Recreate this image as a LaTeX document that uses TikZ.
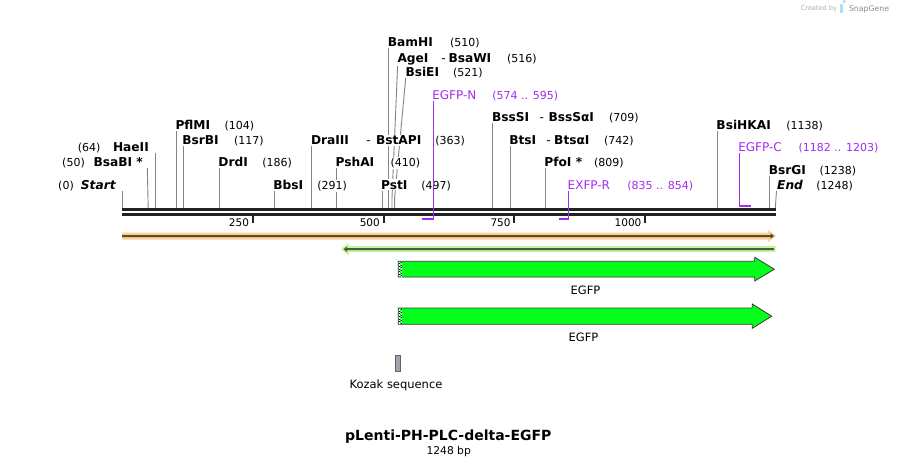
\documentclass[tikz,border=0pt]{standalone}
\usepackage{fontspec}
\setmainfont{DejaVu Sans}
\pgfdeclarelayer{bg}
\pgfdeclarelayer{fg}
\pgfsetlayers{bg,main,fg}
\definecolor{prim}{HTML}{A22CF0}
\definecolor{sitegray}{HTML}{858585}
\definecolor{dnablack}{HTML}{222222}
\definecolor{orangeband}{HTML}{FCD38C}
\definecolor{orangeline}{HTML}{574A3A}
\definecolor{greenband}{HTML}{C4F59C}
\definecolor{greenline}{HTML}{4B5B40}
\definecolor{egfpgreen}{HTML}{05FF1C}
\definecolor{featedge}{HTML}{3A3A3A}
\definecolor{kozakgray}{HTML}{A0A4AC}
\newcommand\enzL[6]{%
  \coordinate (#1b) at ({122+#3*0.5232},208);
  \coordinate (#1t) at ({122+#3*0.5232},{#4+1.5});
  \node[lab] (#1) at ({122+#3*0.5232-2.6},#4) {#2};
  \node[num] (#1n) at ({#5-2},#4) {#6};
  \begin{pgfonlayer}{bg}\draw[siteline] (#1t) -- (#1b);\end{pgfonlayer}
}
\begin{document}
\begin{tikzpicture}[x=1pt,y=-1pt,
  lab/.style={font=\fontsize{12.2}{14}\selectfont\bfseries, fill=white, inner xsep=1.5pt, inner ysep=1pt, anchor=base west},
  labR/.style={lab, anchor=base east},
  num/.style={font=\fontsize{11}{13}\selectfont, fill=white, inner xsep=1.5pt, inner ysep=1pt, anchor=base west},
  numR/.style={num, anchor=base east},
  dashlab/.style={font=\fontsize{12.2}{14}\selectfont, fill=white, inner xsep=1.5pt, inner ysep=1pt, anchor=base west},
  plab/.style={font=\fontsize{12}{14}\selectfont, text=prim, fill=white, inner xsep=1.5pt, inner ysep=1pt, anchor=base west},
  pnum/.style={font=\fontsize{11}{13}\selectfont, text=prim, fill=white, inner xsep=1.5pt, inner ysep=1pt, anchor=base west},
  siteline/.style={draw=sitegray, line width=0.9pt},
  primv/.style={draw=prim, line width=1.1pt},
  primh/.style={draw=prim, line width=2pt},
  dnabar/.style={draw=dnablack, line width=2.7pt},
  tickmark/.style={draw=dnablack, line width=2pt},
  ticklab/.style={font=\fontsize{10.5}{12}\selectfont, inner sep=0pt, anchor=base east},
  featlab/.style={font=\fontsize{11.5}{13}\selectfont, inner sep=0pt, anchor=base},
  arrowfeat/.style={fill=egfpgreen, draw=featedge, line width=0.8pt}
]
\begin{pgfonlayer}{bg}
\fill[white] (0,0) rectangle (898,466);
\end{pgfonlayer}
\path[use as bounding box] (0,0) rectangle (898,466);

% watermark
\node[font=\fontsize{6.6}{8}\selectfont, text=black!30, inner sep=0pt, anchor=base west] (wm1) at (800.5,10.8) {Created by};
\fill[cyan!35] (840.3,3.5) rectangle (843.2,12.5);
\fill[cyan!35] (843.2,3.5) arc[start angle=90,end angle=-90,radius=2.4];
\node[font=\fontsize{7.8}{9}\selectfont, text=black!45, inner sep=0pt, anchor=base west] (wm2) at (848.8,11.5) {SnapGene};

% DNA backbone
\coordinate (dnaL1) at (122,209.7); \coordinate (dnaR1) at (775.8,209.7);
\coordinate (dnaL2) at (122,214.7); \coordinate (dnaR2) at (775.8,214.7);
\draw[dnabar] (dnaL1) -- (dnaR1);
\draw[dnabar] (dnaL2) -- (dnaR2);

% ticks
\foreach \t/\n in {250/t250,500/t500,750/t750,1000/t1000}{
  \coordinate (\n a) at ({122+\t*0.5232},215.5);
  \coordinate (\n b) at ({122+\t*0.5232},222.7);
  \draw[tickmark] (\n a) -- (\n b);
  \node[ticklab] (\n l) at ({122+\t*0.5232-3.6},226.3) {\t};
}

% left-side labels
\coordinate (startt) at (122,190.8); \coordinate (startb) at (122,208);
\begin{pgfonlayer}{bg}\draw[siteline] (startt) -- (startb);\end{pgfonlayer}
\node[labR, font=\fontsize{12.2}{14}\selectfont\bfseries\itshape] (start) at (117.3,189.3) {Start};
\node[numR] (startn) at (75.5,189.3) {(0)};

\coordinate (bsabit) at (147.3,167.8); \coordinate (bsabib) at (148.2,208);
\begin{pgfonlayer}{bg}\draw[siteline] (bsabit) -- (bsabib);\end{pgfonlayer}
\node[labR] (bsabi) at (144.5,166.3) {BsaBI *};
\node[numR] (bsabin) at (86.5,166.3) {(50)};

\coordinate (haeiit) at (155.5,152.5); \coordinate (haeiib) at (155.5,208);
\begin{pgfonlayer}{bg}\draw[siteline] (haeiit) -- (haeiib);\end{pgfonlayer}
\node[labR] (haeii) at (150.5,151) {HaeII};
\node[numR] (haeiin) at (102.2,151) {(64)};

% enzymes
\enzL{pflmi}{PflMI}{104}{129.3}{225}{(104)}
\enzL{bsrbi}{BsrBI}{117}{144.5}{234.3}{(117)}
\enzL{drdi}{DrdI}{186}{166.3}{262.7}{(186)}
\enzL{bbsi}{BbsI}{291}{189.3}{317.7}{(291)}
\enzL{draiii}{DraIII}{363}{144.5}{435.7}{(363)}
\node[dashlab] (draiiid) at (364.7,144.5) {-};
\node[lab] (bstapi) at (374.3,144.5) {BstAPI};
\enzL{pshai}{PshAI}{410}{166.3}{391}{(410)}
\enzL{psti}{PstI}{497}{189.3}{421.7}{(497)}
\enzL{bamhi}{BamHI}{510}{46}{450.3}{(510)}

\coordinate (ageit) at (397.7,64); \coordinate (ageim) at (392,198); \coordinate (ageib) at (392,208);
\begin{pgfonlayer}{bg}\draw[siteline] (ageit) -- (ageim) -- (ageib);\end{pgfonlayer}
\node[lab] (agei) at (395.8,62) {AgeI};
\node[dashlab] (ageid) at (439.6,62) {-};
\node[lab] (bsawi) at (446.8,62) {BsaWI};
\node[num] (agein) at (505.3,62) {(516)};

\coordinate (bsieit) at (405.7,78); \coordinate (bsieim) at (394.6,198); \coordinate (bsieib) at (394.6,208);
\begin{pgfonlayer}{bg}\draw[siteline] (bsieit) -- (bsieim) -- (bsieib);\end{pgfonlayer}
\node[lab] (bsiei) at (403.8,76.4) {BsiEI};
\node[num] (bsiein) at (451.3,76.4) {(521)};

\enzL{bsssi}{BssSI}{709}{121.3}{609.3}{(709)}
\node[dashlab] (bsssid) at (538,121.3) {-};
\node[lab] (bsssai) at (546.8,121.3) {BssSαI};
\enzL{btsi}{BtsI}{742}{144.3}{604.3}{(742)}
\node[dashlab] (btsid) at (544.7,144.3) {-};
\node[lab] (btsai) at (552.5,144.3) {BtsαI};
\enzL{pfoi}{PfoI *}{809}{166.3}{594.3}{(809)}
\enzL{bsihkai}{BsiHKAI}{1138}{129.3}{786.7}{(1138)}
\enzL{bsrgi}{BsrGI}{1238}{174.3}{820}{(1238)}

\coordinate (endt) at (776.5,190.8); \coordinate (endb) at (775.3,208);
\begin{pgfonlayer}{bg}\draw[siteline] (endt) -- (endb);\end{pgfonlayer}
\node[lab, font=\fontsize{12.2}{14}\selectfont\bfseries\itshape] (endl) at (775.5,189.3) {End};
\node[num] (endn) at (814.7,189.3) {(1248)};

% primers
\begin{pgfonlayer}{fg}
\node[plab] (egfpn) at (430.6,99) {EGFP-N};
\node[pnum] (egfpnn) at (490.7,99) {(574 .. 595)};
\coordinate (egfpnt) at (433.5,101); \coordinate (egfpnc) at (433.5,218.8); \coordinate (egfpne) at (422.3,218.8);
\draw[primv] (egfpnt) -- (egfpnc);
\draw[primh] (egfpne) -- ([xshift=0.55pt]egfpnc);

\node[plab] (exfpr) at (566,189.3) {EXFP-R};
\node[pnum] (exfprn) at (625.7,189.3) {(835 .. 854)};
\coordinate (exfprt) at (568.9,191); \coordinate (exfprc) at (568.9,218.8); \coordinate (exfpre) at (558.6,218.8);
\draw[primv] (exfprt) -- (exfprc);
\draw[primh] (exfpre) -- ([xshift=0.55pt]exfprc);

\node[plab] (egfpc) at (736.6,151) {EGFP-C};
\node[pnum] (egfpcn) at (797,151) {(1182 .. 1203)};
\coordinate (egfpct) at (739.8,153); \coordinate (egfpcc) at (739.8,205.8); \coordinate (egfpce) at (750.5,205.8);
\draw[primv] (egfpct) -- (egfpcc);
\draw[primh] ([xshift=-0.55pt]egfpcc) -- (egfpce);
\end{pgfonlayer}

% orange region
\fill[orangeband] (122,232.5) -- (768,232.5) -- (768,230) -- (776,236) -- (768,242) -- (768,239.5) -- (122,239.5) -- cycle;
\fill[orangeline] (122,235) -- (770.5,235) -- (770.5,233.2) -- (774,236) -- (770.5,238.8) -- (770.5,237) -- (122,237) -- cycle;

% green region
\fill[greenband] (775.7,246.2) -- (348.5,246.2) -- (348.5,242.8) -- (341,249.1) -- (348.5,255.4) -- (348.5,252) -- (775.7,252) -- cycle;
\fill[greenline] (774,248.2) -- (347.2,248.2) -- (347.2,246.3) -- (343.6,249.2) -- (347.2,252.1) -- (347.2,250.2) -- (774,250.2) -- cycle;

% EGFP arrows
\draw[arrowfeat] (398.3,261.3) -- (754.7,261.3) -- (754.7,257.3) -- (774.3,269.2) -- (754.7,281) -- (754.7,277) -- (398.3,277) -- cycle;
\draw[line width=0.7pt] (399.4,262) -- (399.4,276.4);
\draw[white,line width=0.7pt,dash pattern=on 0.8pt off 0.8pt] (399.4,262) -- (399.4,276.4);
\draw[line width=0.7pt] (401,262) -- (401,276.4);
\draw[white,line width=0.7pt,dash pattern=on 0.8pt off 0.8pt,dash phase=0.8pt] (401,262) -- (401,276.4);
\node[featlab] (egfp1) at (585.5,294.4) {EGFP};

\draw[arrowfeat] (398.3,308) -- (752.3,308) -- (752.3,304) -- (771.7,316.2) -- (752.3,328.3) -- (752.3,324.3) -- (398.3,324.3) -- cycle;
\draw[line width=0.7pt] (399.4,308.7) -- (399.4,323.6);
\draw[white,line width=0.7pt,dash pattern=on 0.8pt off 0.8pt] (399.4,308.7) -- (399.4,323.6);
\draw[line width=0.7pt] (401,308.7) -- (401,323.6);
\draw[white,line width=0.7pt,dash pattern=on 0.8pt off 0.8pt,dash phase=0.8pt] (401,308.7) -- (401,323.6);
\node[featlab] (egfp2) at (583.5,341.7) {EGFP};

% Kozak
\draw[fill=kozakgray, draw=featedge!80, line width=0.7pt] (395.2,355.7) rectangle (400.8,371);
\node[featlab] (kozak) at (396,388.3) {Kozak sequence};

% title
\node[font=\fontsize{14}{16}\selectfont\bfseries, inner sep=0pt, anchor=base] (title) at (448.3,440) {pLenti-PH-PLC-delta-EGFP};
\node[font=\fontsize{10.7}{12}\selectfont, inner sep=0pt, anchor=base] (bplen) at (448.7,454) {1248 bp};
\end{tikzpicture}
\end{document}
